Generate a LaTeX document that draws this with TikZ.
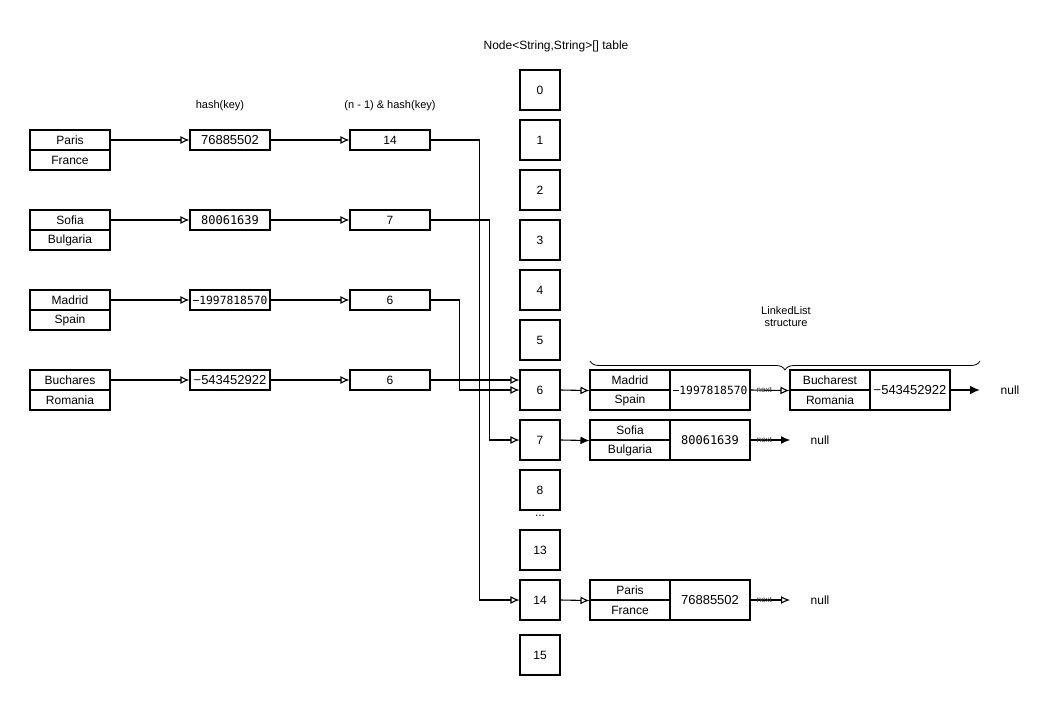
\documentclass[tikz,border=0pt]{standalone}
\usepackage{fontspec}
\setmainfont{Liberation Sans}
\setmonofont{DejaVu Sans Mono}
\usetikzlibrary{arrows.meta,decorations.pathreplacing}
\begin{document}
\begin{tikzpicture}[x=1pt,y=-1pt,
  box/.style={draw,line width=1.1pt,minimum width=80pt,minimum height=20pt,inner sep=0pt,font=\fontsize{12}{14}\selectfont},
  tbox/.style={draw,line width=1.1pt,minimum width=40pt,minimum height=40pt,inner sep=0pt,font=\fontsize{12}{14}\selectfont},
  hbox/.style={draw,line width=1.1pt,minimum width=80pt,minimum height=40pt,inner sep=0pt,font=\fontsize{13}{15}\selectfont},
  monos/.style={font=\ttfamily\fontsize{12}{14}\selectfont},
  monot/.style={font=\ttfamily\fontsize{11.3}{14}\selectfont},
  sans13/.style={font=\fontsize{13}{15}\selectfont},
  conn/.style={line width=1.1pt,-{Latex[open,length=9pt,width=8pt]}},
  connf/.style={line width=1.1pt,-{Latex[length=9pt,width=8pt]}},
  lbl/.style={font=\fontsize{11}{12}\selectfont,inner sep=0pt,align=center},
  txt/.style={font=\fontsize{12}{14}\selectfont,inner sep=0pt},
  nextlbl/.style={font=\fontsize{8}{9}\selectfont,text=black!75,inner sep=0pt},
]
\useasboundingbox (0,0) rectangle (1051,701);

% titles
\node[txt] (title) at (556,46) {Node<String,String>[] table};
\node[lbl] (hk) at (220,106) {hash(key)};
\node[lbl] (nk) at (390,106) {(n - 1) \& hash(key)};

% key/value boxes
\node[box] (k1) at (70,140) {Paris};
\node[box] (v1) at (70,160) {France};
\node[box] (k2) at (70,220) {Sofia};
\node[box] (v2) at (70,240) {Bulgaria};
\node[box] (k3) at (70,300) {Madrid};
\node[box] (v3) at (70,320) {Spain};
\node[box] (k4) at (70,380) {Buchares};
\node[box] (v4) at (70,400) {Romania};

% hash boxes
\node[box,sans13] (h1) at (230,140) {76885502};
\node[box,monos] (h2) at (230,220) {80061639};
\node[box,monot] (h3) at (230,300) {−1997818570};
\node[box,sans13] (h4) at (230,380) {−543452922};

% index boxes
\node[box] (i1) at (390,140) {14};
\node[box] (i2) at (390,220) {7};
\node[box] (i3) at (390,300) {6};
\node[box] (i4) at (390,380) {6};

% table
\node[tbox] (t0) at (540,90) {0};
\node[tbox] (t1) at (540,140) {1};
\node[tbox] (t2) at (540,190) {2};
\node[tbox] (t3) at (540,240) {3};
\node[tbox] (t4) at (540,290) {4};
\node[tbox] (t5) at (540,340) {5};
\node[tbox] (t6) at (540,390) {6};
\node[tbox] (t7) at (540,440) {7};
\node[tbox] (t8) at (540,490) {8};
\node[txt] (dots) at (540,516) {...};
\node[tbox] (t13) at (540,550) {13};
\node[tbox] (t14) at (540,600) {14};
\node[tbox] (t15) at (540,655) {15};

% linked list row 6
\node[box] (a6k) at (630,380) {Madrid};
\node[box] (a6v) at (630,400) {Spain};
\node[hbox,monot] (a6h) at (710,390) {−1997818570};
\node[box] (b6k) at (830,380) {Bucharest};
\node[box] (b6v) at (830,400) {Romania};
\node[hbox] (b6h) at (910,390) {−543452922};
\node[txt] (n6) at (1010,390) {null};
\coordinate (e6) at (980,390);

% row 7
\node[box] (a7k) at (630,430) {Sofia};
\node[box] (a7v) at (630,450) {Bulgaria};
\node[hbox,font=\ttfamily\fontsize{12}{14}\selectfont] (a7h) at (710,440) {80061639};
\node[txt] (n7) at (820,440) {null};
\coordinate (e7) at (790,440);

% row 14
\node[box] (a14k) at (630,590) {Paris};
\node[box] (a14v) at (630,610) {France};
\node[hbox] (a14h) at (710,600) {76885502};
\node[txt] (n14) at (820,600) {null};
\coordinate (e14) at (790,600);

% brace
\draw[line width=0.8pt,decorate,decoration={brace,amplitude=9pt,mirror}] (590,361) -- (980,361);
\node[lbl] (ll) at (786,317) {LinkedList\\structure};

% key -> hash
\draw[conn] (k1.east) -- (h1.west);
\draw[conn] (k2.east) -- (h2.west);
\draw[conn] (k3.east) -- (h3.west);
\draw[conn] (k4.east) -- (h4.west);
% hash -> index
\draw[conn] (h1.east) -- (i1.west);
\draw[conn] (h2.east) -- (i2.west);
\draw[conn] (h3.east) -- (i3.west);
\draw[conn] (h4.east) -- (i4.west);
% index -> table
\draw[conn] (i1.east) -| ([xshift=-40pt]t14.west) -- (t14.west);
\draw[conn] (i2.east) -| ([xshift=-30pt]t7.west) -- (t7.west);
\draw[conn] (i3.east) -| ([xshift=-60pt]t6.west) -- (t6.west);
\draw[conn] (i4.east) -- (i4.east -| t6.west);

% table -> lists
\draw[conn] (t6.east) -- (a6k.south west);
\draw[connf] (t7.east) -- (a7k.south west);
\draw[conn] (t14.east) -- (a14k.south west);

% next links
\draw[conn] (a6h.east) -- node[nextlbl,pos=0.35] (x6) {next} (b6k.south west);
\draw[line width=2.2pt,-{Latex[length=10pt,width=9pt]}] (b6h.east) -- (e6);
\draw[connf] (a7h.east) -- node[nextlbl,pos=0.35] (x7) {next} (e7);
\draw[conn] (a14h.east) -- node[nextlbl,pos=0.35] (x14) {next} (e14);
\end{tikzpicture}
\end{document}
